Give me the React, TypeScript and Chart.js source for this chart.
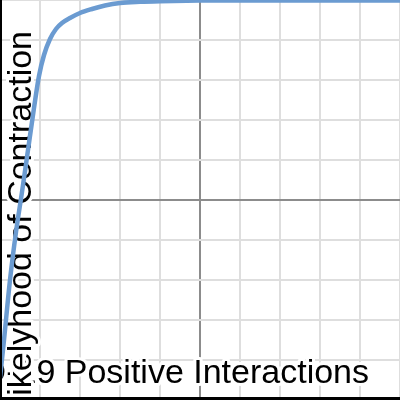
import React, { useEffect, useRef } from "react";
import { Chart, registerables } from "chart.js";

Chart.register(...registerables);

// Curve (x, y in grid units; axes cross at 0)
const curveX = [-5.0, -4.9, -4.75, -4.6, -4.45, -4.3, -4.15, -4.025, -3.9, -3.75, -3.6, -3.45, -3.25, -3.0, -2.7, -2.375, -2.0, -1.5, -1.0, 0, 2.5, 5];
const curveY = [-4.45, -3.5, -2.0, -0.8, 0.2, 1.25, 2.3, 3.1, 3.625, 4.025, 4.275, 4.425, 4.55, 4.675, 4.775, 4.8625, 4.925, 4.955, 4.97, 4.985, 4.99, 4.99];

const axisMin = -5;
const axisMax = 5;
const gridStep = 1;

const xTitle = "COVID-19 Positive Interactions";
const yTitle = "Likelyhood of Contraction";

const titlePlugin = {
  id: "haloTitles",
  beforeDatasetsDraw(chart: any) {
    const ctx = chart.ctx as CanvasRenderingContext2D;
    const area = chart.chartArea;
    ctx.save();
    ctx.font = '34px "Liberation Sans", Arial, sans-serif';
    ctx.textBaseline = "alphabetic";
    ctx.lineJoin = "round";
    ctx.lineWidth = 6;
    ctx.strokeStyle = "#ffffff";
    ctx.fillStyle = "#000000";

    // x-axis title
    ctx.textAlign = "right";
    ctx.strokeText(xTitle, area.left + 369, area.top + 383);
    ctx.fillText(xTitle, area.left + 369, area.top + 383);

    // y-axis title (rotated)
    ctx.save();
    ctx.translate(area.left + 31, area.top + 31);
    ctx.rotate(-Math.PI / 2);
    ctx.textAlign = "right";
    ctx.strokeText(yTitle, 0, 0);
    ctx.fillText(yTitle, 0, 0);
    ctx.restore();
    ctx.restore();
  },
  afterDraw(chart: any) {
    const ctx = chart.ctx as CanvasRenderingContext2D;
    const area = chart.chartArea;
    ctx.save();
    // frame lines (left and bottom)
    ctx.fillStyle = "#000000";
    ctx.fillRect(area.left, area.top, 2, area.bottom - area.top);
    ctx.fillRect(area.left, area.bottom - 3, area.right - area.left, 3);
    ctx.restore();
  },
};

export default function App() {
  const canvasRef = useRef<HTMLCanvasElement | null>(null);

  useEffect(() => {
    if (!canvasRef.current) return;
    const gridColor = (c: any) => (c.tick && c.tick.value === 0 ? "#8c8c8c" : "#dedede");
    const chart = new Chart(canvasRef.current, {
      type: "line",
      data: {
        datasets: [
          {
            data: curveX.map((x, i) => ({ x, y: curveY[i] })),
            borderColor: "#6b9bd1",
            borderWidth: 4.5,
            pointRadius: 0,
            cubicInterpolationMode: "monotone",
            fill: false,
          },
        ],
      },
      options: {
        animation: false,
        responsive: false,
        layout: { padding: 0 },
        plugins: { legend: { display: false }, tooltip: { enabled: false } },
        scales: {
          x: {
            type: "linear",
            min: axisMin,
            max: axisMax,
            ticks: { display: false, stepSize: gridStep },
            grid: { color: gridColor, lineWidth: 2, drawTicks: false },
            border: { display: false },
          },
          y: {
            type: "linear",
            min: axisMin,
            max: axisMax,
            ticks: { display: false, stepSize: gridStep },
            grid: { color: gridColor, lineWidth: 2, drawTicks: false },
            border: { display: false },
          },
        },
      },
      plugins: [titlePlugin],
    } as any);
    return () => chart.destroy();
  }, []);

  return (
    <div style={{ position: "absolute", left: 0, top: 0, width: 400, height: 400, background: "#fff" }}>
      <canvas ref={canvasRef} width={400} height={400} style={{ display: "block" }} />
    </div>
  );
}
